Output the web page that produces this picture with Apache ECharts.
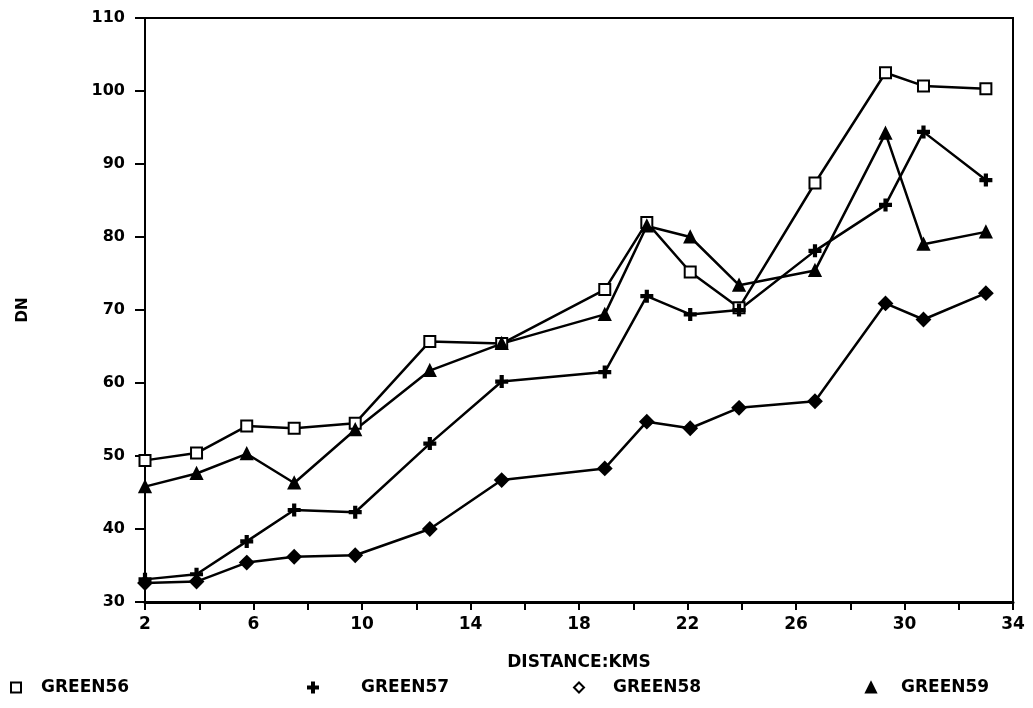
<!DOCTYPE html>
<html>
<head>
<meta charset="utf-8">
<title>DN vs distance</title>
<script src="https://cdn.jsdelivr.net/npm/echarts@6/dist/echarts.min.js"></script>
<style>
  html, body { margin: 0; padding: 0; background: #fff; }
  #myChart { width: 1033px; height: 708px; }
</style>
</head>
<body>
<div id="myChart"></div>
<script>
// distance (km) for every sample point
var distance = [2, 3.9, 5.75, 7.5, 9.75, 12.5, 15.15, 18.95, 20.5, 22.1, 23.9, 26.7, 29.3, 30.7, 33];
// DN values
var green56 = [49.4, 50.4, 54.1, 53.8, 54.5, 65.7, 65.4, 72.8, 82.0, 75.2, 70.3, 87.4, 102.5, 100.7, 100.3];
var green57 = [33.1, 33.8, 38.3, 42.6, 42.3, 51.7, 60.2, 61.5, 71.9, 69.4, 70.0, 78.1, 84.4, 94.4, 87.8];
var green58 = [32.6, 32.8, 35.4, 36.2, 36.4, 40.0, 46.7, 48.3, 54.7, 53.8, 56.6, 57.5, 70.9, 68.7, 72.3];
var green59 = [45.8, 47.6, 50.3, 46.3, 53.6, 61.7, 65.4, 69.4, 81.5, 80.0, 73.4, 75.4, 94.2, 79.0, 80.7];

var seriesNames = ['GREEN56', 'GREEN57', 'GREEN58', 'GREEN59'];
var xLabels = [2, 6, 10, 14, 18, 22, 26, 30, 34];

var font = 'DejaVu Sans';
var plusPath = 'path://M4,0 L6,0 L6,4 L10,4 L10,6 L6,6 L6,10 L4,10 L4,6 L0,6 L0,4 L4,4 Z';

function pairs(ys) {
  return distance.map(function (d, i) { return [d, ys[i]]; });
}

function line(name, ys, symbol, size) {
  return {
    name: name,
    type: 'line',
    data: pairs(ys),
    symbol: symbol,
    symbolSize: size,
    showAllSymbol: true,
    lineStyle: { color: '#000', width: 2.5 },
    itemStyle: { color: '#000', borderColor: '#000', borderWidth: 2 },
    emphasis: { disabled: true },
    animation: false
  };
}

// one legend per item, the original spreads them across the bottom
function legendAt(left, name, icon, gap) {
  return {
    left: left,
    top: 674,
    data: [{ name: name, icon: icon }],
    itemWidth: 10,
    itemHeight: 10,
    selectedMode: false,
    textStyle: { fontFamily: font, fontWeight: 'bold', fontSize: 17, color: '#000', padding: [0, 0, 0, gap] }
  };
}

var myChart = echarts.init(document.getElementById('myChart'));
var option = {
  backgroundColor: '#fff',
  animation: false,
  grid: {
    left: 145, right: 20, top: 18, bottom: 106,
    show: true, borderColor: '#000', borderWidth: 2
  },
  legend: [
    legendAt(5, seriesNames[0], 'emptyRect', 15),
    legendAt(302, seriesNames[1], plusPath, 38),
    legendAt(568, seriesNames[2], 'emptyDiamond', 24),
    legendAt(860, seriesNames[3], 'triangle', 20)
  ],
  xAxis: {
    type: 'value',
    min: 2, max: 34, interval: 2,
    name: 'DISTANCE:KMS',
    nameLocation: 'middle',
    nameGap: 52,
    nameTextStyle: { fontFamily: font, fontWeight: 'bold', fontSize: 17, color: '#000' },
    axisLine: { lineStyle: { color: '#000', width: 3 } },
    axisTick: { length: 8, lineStyle: { color: '#000', width: 2 } },
    splitLine: { show: false },
    axisLabel: {
      margin: 14,
      fontFamily: font, fontWeight: 'bold', fontSize: 17, color: '#000',
      formatter: function (v) { return xLabels.indexOf(v) >= 0 ? String(v) : ''; }
    }
  },
  yAxis: {
    type: 'value',
    min: 30, max: 110, interval: 10,
    name: 'DN',
    nameLocation: 'middle',
    nameGap: 114,
    nameRotate: 90,
    nameTextStyle: { fontFamily: font, fontWeight: 'bold', fontSize: 15, color: '#000' },
    axisLine: { lineStyle: { color: '#000', width: 2 } },
    axisTick: { length: 10, lineStyle: { color: '#000', width: 2 } },
    splitLine: { show: false },
    axisLabel: {
      margin: 20,
      fontFamily: font, fontWeight: 'bold', fontSize: 16, color: '#000'
    }
  },
  series: [
    line(seriesNames[0], green56, 'emptyRect', 11),
    line(seriesNames[1], green57, plusPath, 11),
    line(seriesNames[2], green58, 'diamond', 13),
    line(seriesNames[3], green59, 'triangle', 11)
  ]
};
myChart.setOption(option);
</script>
</body>
</html>
